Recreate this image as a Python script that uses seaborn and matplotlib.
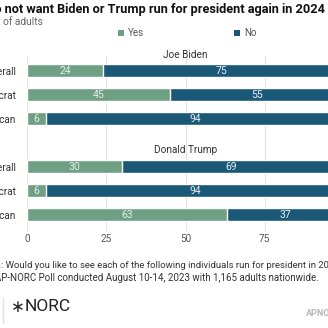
import matplotlib
matplotlib.use("Agg")
import matplotlib.pyplot as plt
import seaborn as sns
import pandas as pd
from matplotlib.patches import Patch
from matplotlib.lines import Line2D

groups = ["Overall", "Democrat", "Republican"]
biden_yes = [24, 45, 6]
biden_no = [75, 55, 94]
trump_yes = [30, 6, 63]
trump_no = [69, 94, 37]
panels = ["Joe Biden", "Donald Trump"]
xticks = [0, 25, 50, 75, 100]

GREEN = "#6fa084"
BLUE = "#1b5878"
FONT = ["Roboto", "DejaVu Sans"]

sns.set_theme(style="white")
plt.rcParams["font.family"] = FONT

W = H = 328
fig = plt.figure(figsize=(3.28, 3.28), dpi=100)
fig.patch.set_facecolor("white")

left = 27 / W
width = 317 / W
ax_top = fig.add_axes([left, 1 - 143 / H, width, 87 / H])
ax_bot = fig.add_axes([left, 1 - 231 / H, width, 88 / H])

specs = [
    (ax_top, biden_yes, biden_no, (3.01, -0.61)),
    (ax_bot, trump_yes, trump_no, (2.69, -1.0)),
]

for ax, yes, no, ylim in specs:
    df = pd.DataFrame({"group": groups, "yes": yes, "no": no})
    df["total"] = df["yes"] + df["no"]
    sns.barplot(data=df, x="total", y="group", orient="h", color=BLUE,
                width=0.54, saturation=1, ax=ax, zorder=2)
    sns.barplot(data=df, x="yes", y="group", orient="h", color=GREEN,
                width=0.54, saturation=1, ax=ax, zorder=3)
    for i, (y_, n_) in enumerate(zip(yes, no)):
        ax.text(y_ / 2, i, str(y_), ha="center", va="center",
                fontsize=7.5, color="#e4eee8", zorder=4)
        ax.text(y_ + n_ / 2, i, str(n_), ha="center", va="center",
                fontsize=7.5, color="#e8eef2", zorder=4)
    ax.set_xlim(0, 100)
    ax.set_ylim(*ylim)
    ax.set_xticks(xticks)
    ax.grid(axis="x", color="#e3e3e3", linewidth=0.8, zorder=0)
    ax.grid(axis="y", visible=False)
    for s in ax.spines.values():
        s.set_visible(False)
    ax.set_xlabel("")
    ax.set_ylabel("")
    ax.tick_params(axis="y", length=0, pad=8, labelsize=7.2, labelcolor="#333333")
    ax.tick_params(axis="x", length=0, pad=2.5, labelsize=7.2, labelcolor="#555555")
    ax.set_facecolor("none")

ax_top.tick_params(axis="x", labelbottom=False)
ax_top.text(50, -0.61 - 1 / 24.05, panels[0], ha="center", va="center",
            fontsize=7.2, color="#333333")
ax_bot.text(50, -1.0 + 7 / 23.85, panels[1], ha="center", va="center",
            fontsize=7.2, color="#333333")

# title & subtitle
fig.text(325 / W, 1 - 10 / H,
         "Most do not want Biden or Trump run for president again in 2024",
         ha="right", va="center", fontsize=9.15, fontweight="bold", color="#111111")
fig.text(42.5 / W, 1 - 22 / H, "Percent of adults", ha="right", va="center",
         fontsize=7.4, color="#666666")

# legend
handles = [Patch(facecolor=GREEN, edgecolor="none"), Patch(facecolor=BLUE, edgecolor="none")]
leg = fig.legend(handles, ["Yes", "No"], loc="center left",
                 bbox_to_anchor=(118 / W, 1 - 33.5 / H), ncol=2, frameon=False,
                 handlelength=0.6, handleheight=0.6, handletextpad=0.4,
                 columnspacing=9.3, borderpad=0, borderaxespad=0, fontsize=7)
for t in leg.get_texts():
    t.set_color("#555555")

# footnotes
fig.text(1 / W, 1 - 265 / H,
         ": Would you like to see each of the following individuals run for president in 2024?",
         ha="left", va="center", fontsize=6.8, color="#333333")
fig.text(1 / W, 1 - 265 / H, "Question", ha="right", va="center",
         fontsize=6.8, color="#333333")
fig.text(319 / W, 1 - 278 / H,
         "Source: AP-NORC Poll conducted August 10-14, 2023 with 1,165 adults nationwide.",
         ha="right", va="center", fontsize=7.05, color="#333333")

# logo
fig.add_artist(Line2D([2.5 / W, 2.5 / W], [1 - 298 / H, 1 - 323 / H],
                      color="#e0e0e0", linewidth=1))
fig.text(18 / W, 1 - 307 / H, "\u2217", ha="center", va="center",
         fontsize=12, color="#222222", family="DejaVu Sans")
fig.text(25 / W, 1 - 306.5 / H, "NORC", ha="left", va="center",
         fontsize=12.5, color="#222222")
fig.text(306 / W, 1 - 313 / H, "APNORC.org", ha="left", va="center",
         fontsize=6.5, fontweight="bold", color="#b5b5b5")

fig.savefig("out.png", dpi=100, facecolor="white")
